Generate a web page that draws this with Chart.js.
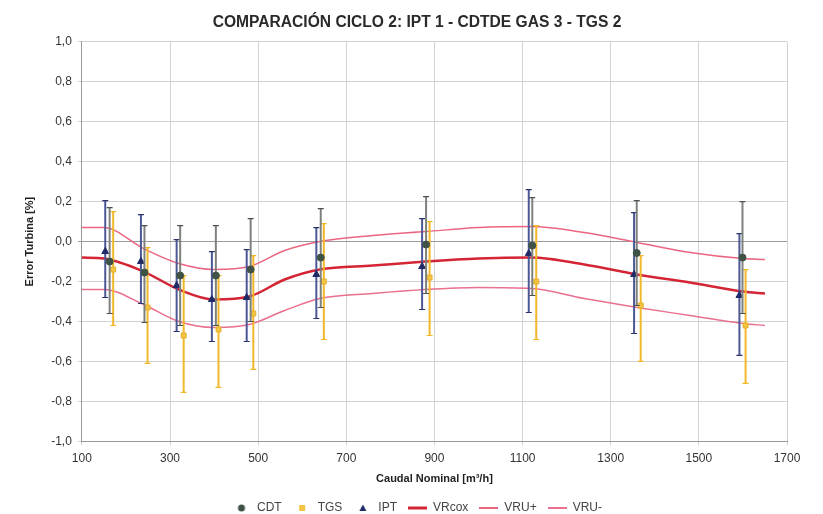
<!DOCTYPE html>
<html>
<head>
<meta charset="utf-8">
<script src="https://cdn.jsdelivr.net/npm/chart.js@4.4.1/dist/chart.umd.min.js"></script>
<style>
  html, body { margin: 0; padding: 0; background: #fff; }
  #wrap { width: 823px; height: 514px; }
</style>
</head>
<body>
<div id="wrap"><canvas id="ciclo-chart" width="823" height="514"></canvas></div>
<script>
// medidas por caudal nominal (x = caudal, y = error, low/high = extremos de la barra)
const cdtX = [163, 242, 323, 404, 483, 642, 881, 1122, 1359, 1599];
const cdtY = [-0.10, -0.155, -0.17, -0.17, -0.14, -0.08, -0.015, -0.02, -0.057, -0.08];
const cdtLow = [-0.36, -0.405, -0.42, -0.42, -0.40, -0.33, -0.26, -0.27, -0.32, -0.36];
const cdtHigh = [0.17, 0.08, 0.08, 0.08, 0.115, 0.165, 0.225, 0.22, 0.205, 0.20];

const tgsX = [171, 249, 331, 410, 489, 649, 889, 1131, 1368, 1606];
const tgsY = [-0.14, -0.33, -0.47, -0.44, -0.36, -0.20, -0.18, -0.20, -0.32, -0.42];
const tgsLow = [-0.42, -0.61, -0.755, -0.73, -0.64, -0.49, -0.47, -0.49, -0.60, -0.71];
const tgsHigh = [0.15, -0.03, -0.17, -0.17, -0.07, 0.09, 0.10, 0.08, -0.07, -0.14];

const iptX = [153, 234, 315, 395, 474, 632, 872, 1114, 1353, 1592];
const iptY = [-0.05, -0.10, -0.22, -0.29, -0.28, -0.165, -0.125, -0.06, -0.165, -0.27];
const iptLow = [-0.28, -0.31, -0.45, -0.50, -0.50, -0.385, -0.34, -0.355, -0.46, -0.57];
const iptHigh = [0.205, 0.135, 0.01, -0.05, -0.04, 0.07, 0.115, 0.26, 0.145, 0.04];

// curvas de referencia
const curveX = [100, 150, 240, 320, 400, 480, 560, 640, 760, 880, 1000, 1120, 1240, 1360, 1480, 1600, 1650];
const vrcox = [-0.08, -0.085, -0.15, -0.24, -0.29, -0.275, -0.19, -0.14, -0.12, -0.10, -0.085, -0.08, -0.115, -0.165, -0.205, -0.25, -0.26];
const vruPlus = [0.07, 0.07, -0.035, -0.11, -0.14, -0.125, -0.045, 0.0, 0.03, 0.05, 0.07, 0.075, 0.045, -0.005, -0.055, -0.085, -0.09];
const vruMinus = [-0.24, -0.24, -0.315, -0.40, -0.43, -0.415, -0.345, -0.285, -0.26, -0.24, -0.23, -0.235, -0.285, -0.33, -0.37, -0.41, -0.42];

const toPoints = (xs, ys) => xs.map((x, i) => ({ x: x, y: ys[i] }));

const errorBars = {
    0: { low: cdtLow, high: cdtHigh, color: '#7d827d', cap: '#4b524b' },
    1: { low: tgsLow, high: tgsHigh, color: '#f3b82a', cap: '#f3b82a' },
    2: { low: iptLow, high: iptHigh, color: '#4c5896', cap: '#2a336e' }
};

const errorBarPlugin = {
    id: 'errorBars',
    beforeDatasetDraw(chart, args) {
        const eb = errorBars[args.index];
        if (!eb) return;
        const ctx = chart.ctx;
        const xs = chart.scales.x;
        const ys = chart.scales.y;
        const pts = chart.data.datasets[args.index].data;
        ctx.save();
        pts.forEach((p, i) => {
            const px = xs.getPixelForValue(p.x);
            const top = ys.getPixelForValue(eb.high[i]);
            const bot = ys.getPixelForValue(eb.low[i]);
            ctx.strokeStyle = eb.color;
            ctx.lineWidth = 2;
            ctx.beginPath();
            ctx.moveTo(px, top);
            ctx.lineTo(px, bot);
            ctx.stroke();
            ctx.strokeStyle = eb.cap;
            ctx.lineWidth = 1.2;
            ctx.beginPath();
            ctx.moveTo(px - 3, top);
            ctx.lineTo(px + 3, top);
            ctx.moveTo(px - 3, bot);
            ctx.lineTo(px + 3, bot);
            ctx.stroke();
        });
        ctx.restore();
    }
};

// iconos de la leyenda (marcadores pequeños, líneas largas)
function legendIcon(kind, color, thick) {
    const c = document.createElement('canvas');
    const w = kind === 'line' ? 19 : 10;
    c.width = w;
    c.height = 10;
    const g = c.getContext('2d');
    g.fillStyle = color;
    g.strokeStyle = color;
    if (kind === 'circle') {
        g.beginPath();
        g.arc(5, 5, 3.5, 0, Math.PI * 2);
        g.fill();
    } else if (kind === 'rect') {
        g.fillRect(2, 2, 6, 6);
    } else if (kind === 'triangle') {
        g.beginPath();
        g.moveTo(5, 1.5);
        g.lineTo(8.5, 8);
        g.lineTo(1.5, 8);
        g.closePath();
        g.fill();
    } else {
        g.lineWidth = thick;
        g.beginPath();
        g.moveTo(0, 5);
        g.lineTo(19, 5);
        g.stroke();
    }
    return c;
}

const legendIcons = [
    legendIcon('circle', '#3f5246'),
    legendIcon('rect', '#f2c441'),
    legendIcon('triangle', '#1f2a66'),
    legendIcon('line', '#d42535', 3),
    legendIcon('line', '#ea6680', 2),
    legendIcon('line', '#e9708e', 2)
];

const fmt = v => v.toFixed(1).replace('.', ',');

new Chart(document.getElementById('ciclo-chart'), {
    type: 'scatter',
    data: {
        datasets: [
            {
                label: 'CDT',
                data: toPoints(cdtX, cdtY),
                pointStyle: 'circle',
                pointRadius: 3.5,
                backgroundColor: '#3f5246',
                borderColor: '#3f5246'
            },
            {
                label: 'TGS',
                data: toPoints(tgsX, tgsY),
                pointStyle: 'rect',
                pointRadius: 3.5,
                backgroundColor: '#f2c441',
                borderColor: '#e6b030'
            },
            {
                label: 'IPT',
                data: toPoints(iptX, iptY),
                pointStyle: 'triangle',
                pointRadius: 4,
                backgroundColor: '#1f2a66',
                borderColor: '#1f2a66'
            },
            {
                label: 'VRcox',
                type: 'line',
                data: toPoints(curveX, vrcox),
                borderColor: '#d42535',
                backgroundColor: '#d42535',
                borderWidth: 2.5,
                pointRadius: 0,
                cubicInterpolationMode: 'monotone',
                fill: false
            },
            {
                label: 'VRU+',
                type: 'line',
                data: toPoints(curveX, vruPlus),
                borderColor: '#ea6680',
                backgroundColor: '#ea6680',
                borderWidth: 1.5,
                pointRadius: 0,
                cubicInterpolationMode: 'monotone',
                fill: false
            },
            {
                label: 'VRU-',
                type: 'line',
                data: toPoints(curveX, vruMinus),
                borderColor: '#e9708e',
                backgroundColor: '#e9708e',
                borderWidth: 1.5,
                pointRadius: 0,
                cubicInterpolationMode: 'monotone',
                fill: false
            }
        ]
    },
    options: {
        responsive: false,
        animation: false,
        layout: { padding: { left: 47, right: 36, top: 4, bottom: -10 } },
        plugins: {
            title: {
                display: true,
                text: 'COMPARACIÓN CICLO 2: IPT 1 - CDTDE GAS 3 - TGS 2',
                color: '#2a2a2a',
                font: { family: 'Liberation Sans', size: 15.6, weight: 'bold' },
                padding: { top: 9, bottom: 10 }
            },
            legend: {
                position: 'bottom',
                labels: {
                    usePointStyle: true,
                    pointStyleWidth: 19,
                    boxHeight: 10,
                    padding: 11,
                    color: '#444',
                    font: { family: 'Liberation Sans', size: 12 },
                    generateLabels(chart) {
                        const items = Chart.defaults.plugins.legend.labels.generateLabels(chart);
                        items.forEach(it => { it.pointStyle = legendIcons[it.datasetIndex]; });
                        return items;
                    }
                }
            },
            tooltip: { enabled: false }
        },
        scales: {
            x: {
                type: 'linear',
                min: 100,
                max: 1700,
                ticks: {
                    stepSize: 200,
                    padding: 6,
                    color: '#333',
                    font: { family: 'Liberation Sans', size: 12 },
                    callback: v => String(v)
                },
                grid: { color: '#d2d2d2', tickLength: 4 },
                border: { color: '#999' },
                title: {
                    display: true,
                    text: 'Caudal Nominal [m³/h]',
                    color: '#222',
                    font: { family: 'Liberation Sans', size: 11, weight: 'bold' },
                    padding: { top: 1, bottom: 5 }
                }
            },
            y: {
                min: -1,
                max: 1,
                ticks: {
                    stepSize: 0.2,
                    padding: 6,
                    color: '#333',
                    font: { family: 'Liberation Sans', size: 12 },
                    callback: v => fmt(v)
                },
                grid: {
                    color: ctx => (Math.abs(ctx.tick.value) < 1e-9 ? '#9a9a9a' : '#d2d2d2'),
                    tickLength: 4
                },
                border: { color: '#999' },
                title: {
                    display: true,
                    text: 'Error Turbina [%]',
                    color: '#222',
                    font: { family: 'Liberation Sans', size: 11, weight: 'bold' },
                    padding: { top: -24, bottom: 9 }
                }
            }
        }
    },
    plugins: [errorBarPlugin]
});
</script>
</body>
</html>
